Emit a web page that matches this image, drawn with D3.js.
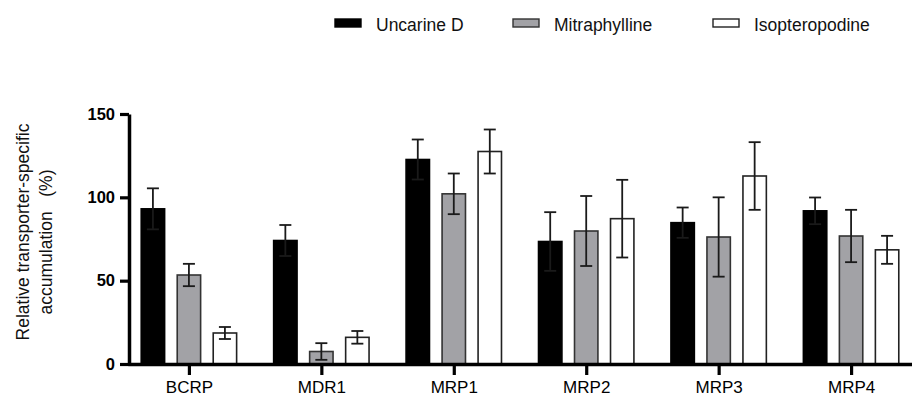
<!DOCTYPE html>
<html>
<head>
<meta charset="utf-8">
<script src="https://cdn.jsdelivr.net/npm/d3@7"></script>
<style>
  body { margin: 0; background: #fff; }
  svg { display: block; font-family: "Liberation Sans", Arial, sans-serif; }
</style>
</head>
<body>
<svg id="chart" width="912" height="396"></svg>
<script>
const categories = ['BCRP', 'MDR1', 'MRP1', 'MRP2', 'MRP3', 'MRP4'];
const seriesNames = ['Uncarine D', 'Mitraphylline', 'Isopteropodine'];

// mean values per transporter, one array per compound
const uncarineD = [93.1, 74.1, 122.7, 73.5, 84.8, 91.9];
const mitraphylline = [53.4, 7.5, 102.1, 79.8, 76.2, 76.8];
const isopteropodine = [18.6, 16.0, 127.5, 87.2, 112.8, 68.5];

// error (+/-) per bar
const uncarineDErr = [12.3, 9.3, 12.0, 17.6, 9.1, 8.0];
const mitraphyllineErr = [6.7, 5.0, 12.2, 21.0, 23.8, 15.7];
const isopteropodineErr = [3.6, 3.8, 13.2, 23.3, 20.3, 8.4];

const yTicks = [0, 50, 100, 150];

const fills = ['#000000', '#a2a2a6', '#ffffff'];
const strokes = ['#000000', '#333333', '#222222'];

const values = [uncarineD, mitraphylline, isopteropodine];
const errors = [uncarineDErr, mitraphyllineErr, isopteropodineErr];

// flatten into bar records
const bars = [];
categories.forEach((cat, ci) => {
  seriesNames.forEach((s, si) => {
    bars.push({ cat: cat, series: s, si: si, value: values[si][ci], err: errors[si][ci] });
  });
});

const svg = d3.select('#chart');

const x = d3.scalePoint().domain(categories).range([128, 912]).padding(0.46);
const xInner = d3.scaleBand().domain(seriesNames).range([-54, 54])
  .paddingInner(0.35).paddingOuter(0.175);
const y = d3.scaleLinear().domain([0, 150]).range([364, 114]);

// bars
svg.append('g')
  .selectAll('rect')
  .data(bars)
  .join('rect')
  .attr('x', d => x(d.cat) + xInner(d.series))
  .attr('y', d => y(d.value))
  .attr('width', xInner.bandwidth())
  .attr('height', d => y(0) - y(d.value))
  .attr('fill', d => fills[d.si])
  .attr('stroke', d => strokes[d.si])
  .attr('stroke-width', 1.6);

// error bars
const errG = svg.append('g')
  .attr('stroke', '#1a1a1a')
  .attr('stroke-width', 1.8);

const cx = d => x(d.cat) + xInner(d.series) + xInner.bandwidth() / 2;

errG.selectAll('line.stem')
  .data(bars)
  .join('line')
  .attr('class', 'stem')
  .attr('x1', cx).attr('x2', cx)
  .attr('y1', d => y(d.value + d.err))
  .attr('y2', d => y(d.value - d.err));

errG.selectAll('line.capTop')
  .data(bars)
  .join('line')
  .attr('class', 'capTop')
  .attr('x1', d => cx(d) - 6).attr('x2', d => cx(d) + 6)
  .attr('y1', d => y(d.value + d.err))
  .attr('y2', d => y(d.value + d.err));

errG.selectAll('line.capBottom')
  .data(bars)
  .join('line')
  .attr('class', 'capBottom')
  .attr('x1', d => cx(d) - 6).attr('x2', d => cx(d) + 6)
  .attr('y1', d => y(d.value - d.err))
  .attr('y2', d => y(d.value - d.err));

// y axis
const yAxis = svg.append('g')
  .attr('transform', 'translate(129,0)')
  .call(d3.axisLeft(y).tickValues(yTicks).tickSize(9).tickSizeOuter(0).tickPadding(5));
yAxis.select('.domain').attr('stroke-width', 3.5).attr('stroke', '#000');
yAxis.selectAll('.tick line').attr('stroke-width', 3.2);
yAxis.selectAll('.tick text')
  .attr('font-size', 16.5)
  .attr('font-weight', 'bold')
  .attr('font-family', '"Liberation Sans", Arial, sans-serif')
  .attr('fill', '#000');

// x axis
const xAxis = svg.append('g')
  .attr('transform', 'translate(0,364)')
  .call(d3.axisBottom(x).tickSize(11).tickSizeOuter(0).tickPadding(6));
xAxis.select('.domain').attr('stroke-width', 3.5).attr('stroke', '#000');
xAxis.selectAll('.tick line').attr('stroke-width', 3.2);
xAxis.selectAll('.tick text')
  .attr('font-size', 17)
  .attr('font-family', '"Liberation Sans", Arial, sans-serif')
  .attr('fill', '#000');

// y axis title, two lines
const title = svg.append('g').attr('font-size', 17.5).attr('fill', '#111');
title.append('text')
  .attr('transform', 'translate(29,232) rotate(-90)')
  .attr('text-anchor', 'middle')
  .text('Relative transporter-specific');
title.append('text')
  .attr('transform', 'translate(52,242) rotate(-90)')
  .attr('text-anchor', 'middle')
  .attr('xml:space', 'preserve')
  .style('white-space', 'pre')
  .text('accumulation   (%)');

// legend
const legendX = [335, 513, 713];
const legend = svg.append('g')
  .selectAll('g')
  .data(seriesNames)
  .join('g')
  .attr('transform', (d, i) => 'translate(' + legendX[i] + ',0)');

legend.append('rect')
  .attr('x', 0).attr('y', 19)
  .attr('width', 26).attr('height', 8)
  .attr('fill', (d, i) => fills[i])
  .attr('stroke', (d, i) => strokes[i])
  .attr('stroke-width', 1.4);

legend.append('text')
  .attr('x', 41).attr('y', 30.5)
  .attr('font-size', 17.5)
  .attr('fill', '#111')
  .text(d => d);
</script>
</body>
</html>
